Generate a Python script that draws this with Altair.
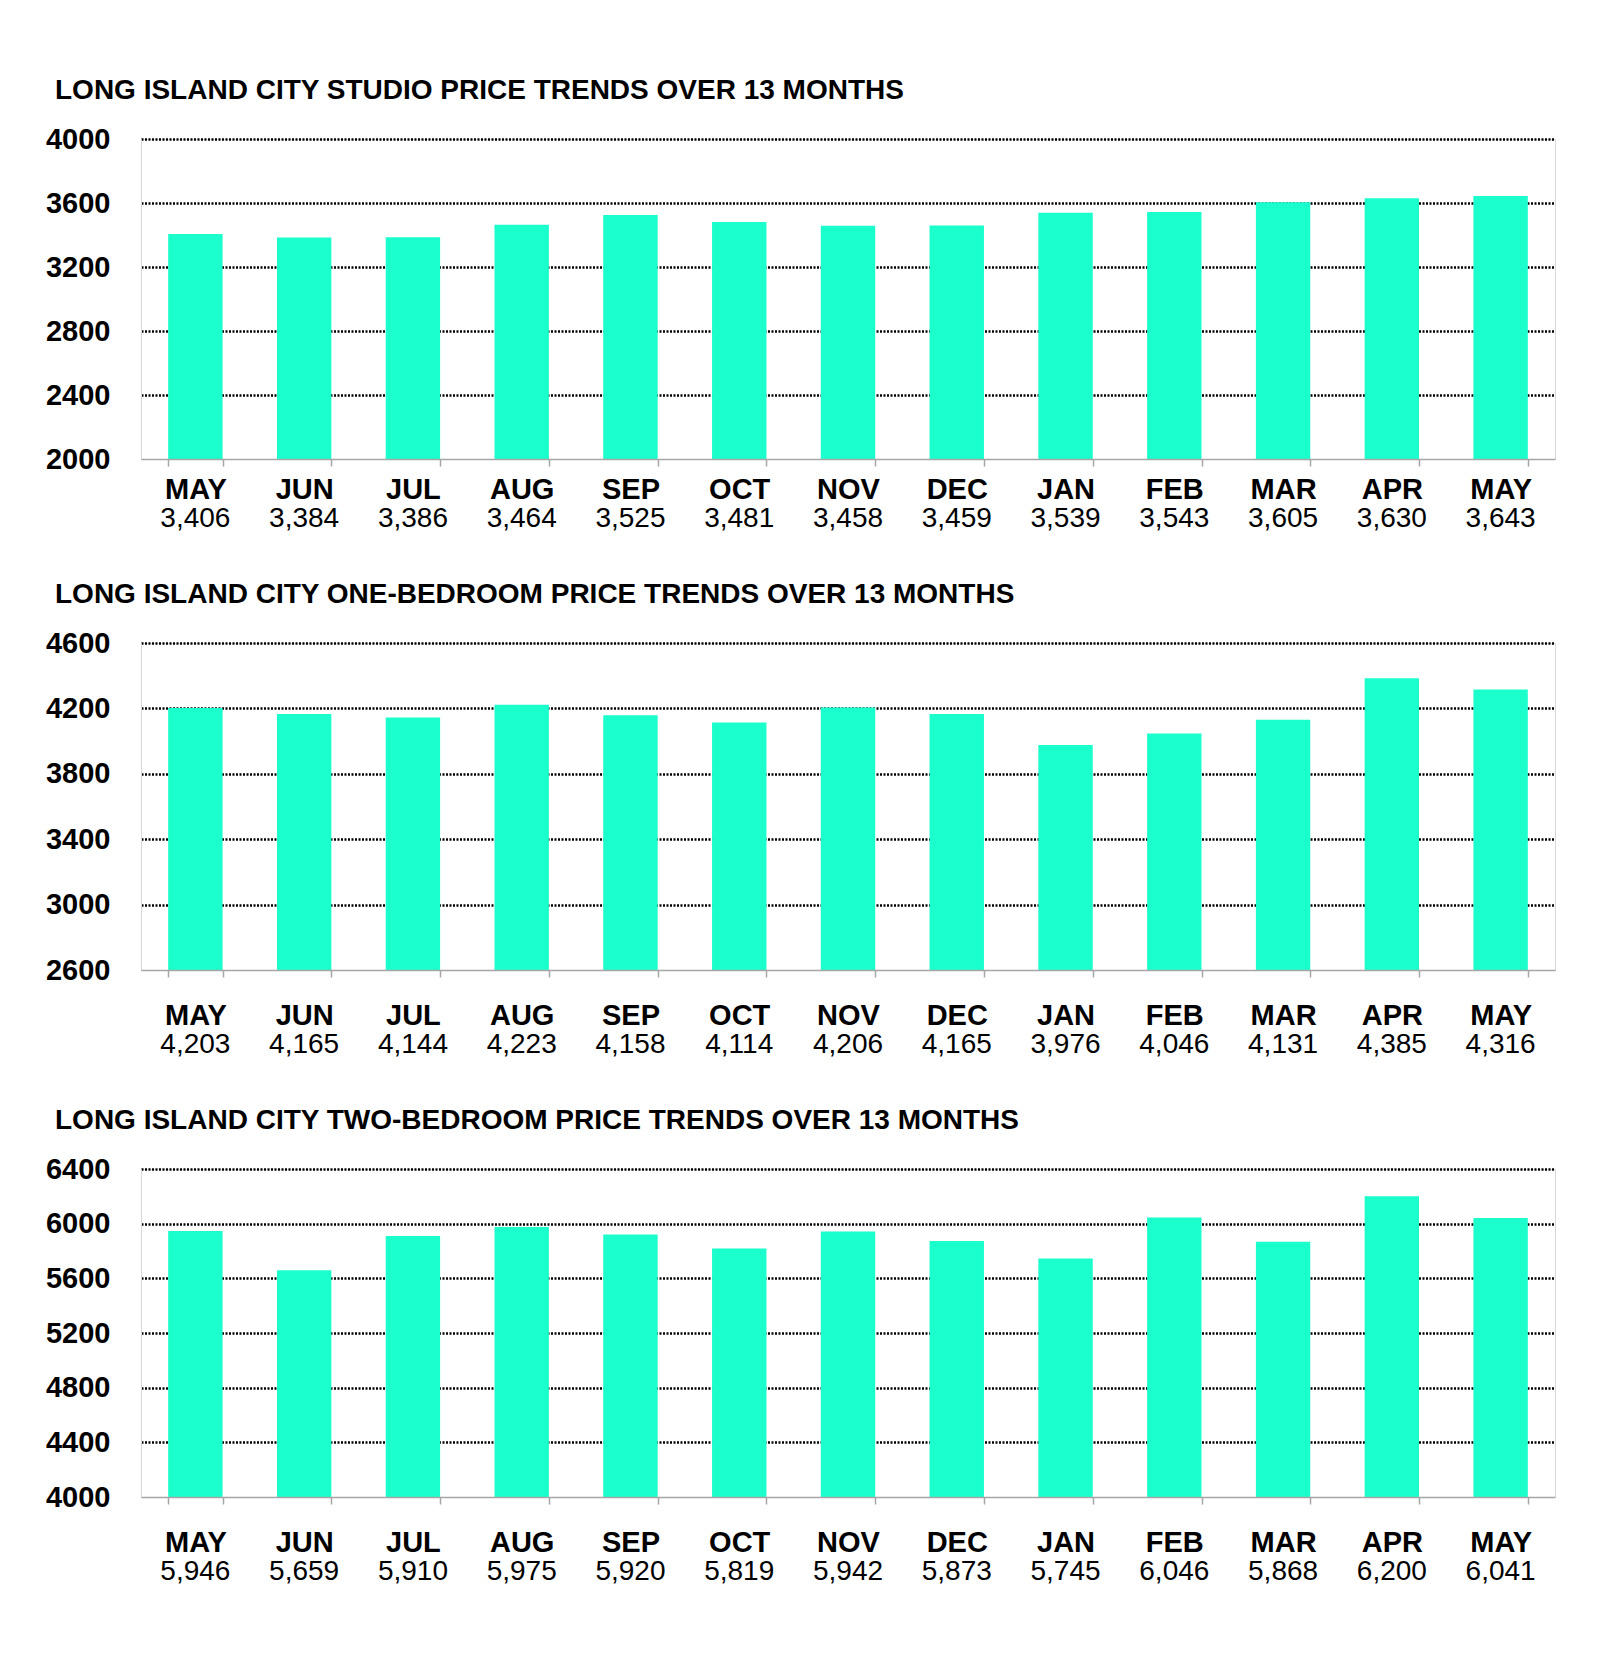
import altair as alt
import pandas as pd

months = ["MAY", "JUN", "JUL", "AUG", "SEP", "OCT", "NOV", "DEC", "JAN", "FEB", "MAR", "APR", "MAY"]
studio = [3406, 3384, 3386, 3464, 3525, 3481, 3458, 3459, 3539, 3543, 3605, 3630, 3643]
one_bed = [4203, 4165, 4144, 4223, 4158, 4114, 4206, 4165, 3976, 4046, 4131, 4385, 4316]
two_bed = [5946, 5659, 5910, 5975, 5920, 5819, 5942, 5873, 5745, 6046, 5868, 6200, 6041]

titles = [
    "LONG ISLAND CITY STUDIO PRICE TRENDS OVER 13 MONTHS",
    "LONG ISLAND CITY ONE-BEDROOM PRICE TRENDS OVER 13 MONTHS",
    "LONG ISLAND CITY TWO-BEDROOM PRICE TRENDS OVER 13 MONTHS",
]
y_domains = [(2000, 4000), (2600, 4600), (4000, 6400)]
y_steps = [400, 400, 400]

BAR = "#1affcc"
FONT = "Liberation Sans"
W = 1414
heights = [320, 327, 328]
label_pads = [12, 27, 27]


def panel(values, title, dom, step, h, lpad):
    df = pd.DataFrame({
        "key": [f"{m}-{i}" for i, m in enumerate(months)],
        "month": months,
        "value": values,
    })
    lo, hi = dom
    ticks = list(range(lo, hi + 1, step))
    x = alt.X(
        "key:N",
        sort=None,
        scale=alt.Scale(paddingInner=0.5, paddingOuter=0.25),
        axis=alt.Axis(
            title=None,
            labelExpr="isValid(datum.value) ? split(datum.value, '-')[0] : ''",
            labelAngle=0,
            labelFont=FONT,
            labelFontWeight="bold",
            labelFontSize=29,
            labelColor="#000000",
            labelPadding=lpad - 3,
            tickBand="extent",
            tickSize=7,
            tickColor="#a6a6a6",
            tickWidth=1.5,
            domainColor="#a6a6a6",
            domainWidth=1.5,
            grid=False,
            zindex=2,
        ),
    )
    yscale = alt.Scale(domain=[lo, hi], nice=False, zero=False)
    bars = alt.Chart(df).mark_bar(color=BAR, clip=True).encode(
        x=x,
        y=alt.Y(
            "value:Q",
            scale=yscale,
            axis=alt.Axis(
                title=None,
                values=ticks,
                format="d",
                labelFont=FONT,
                labelFontWeight="bold",
                labelFontSize=29,
                labelColor="#000000",
                labelPadding=31,
                ticks=False,
                domainColor="#d9d9d9",
                domainWidth=1,
                grid=True,
                gridColor="#000000",
                gridWidth=2.5,
                gridDash=[2, 1.5],
                gridOpacity={"expr": f"datum.value <= {lo} ? 0 : 1"},
            ),
        ),
    )
    right = alt.Chart(df).mark_bar(opacity=0, clip=True).encode(
        x=alt.X("key:N", sort=None),
        y=alt.Y(
            "value:Q",
            scale=yscale,
            axis=alt.Axis(
                orient="right", title=None, labels=False, ticks=False, grid=False,
                domainColor="#d9d9d9", domainWidth=1,
            ),
        ),
    )
    vals = alt.Chart(df).mark_text(
        font=FONT, fontSize=28, color="#000000", baseline="middle"
    ).encode(
        x=alt.X("key:N", sort=None),
        y=alt.value(h + lpad + 48),
        text=alt.Text("value:Q", format=","),
    )
    return (
        alt.layer(bars, right, vals)
        .resolve_axis(y="independent")
        .properties(
            width=W,
            height=h,
            title=alt.TitleParams(
                title, anchor="start", frame="group", dx=-86, offset=20,
                font=FONT, fontSize=28, fontWeight="bold", color="#000000",
            ),
        )
    )


charts = [
    panel(v, t, d, s, h, lp)
    for v, t, d, s, h, lp in zip([studio, one_bed, two_bed], titles, y_domains, y_steps, heights, label_pads)
]

chart = (
    alt.vconcat(*charts, spacing=46)
    .properties(padding={"left": 36, "top": 68, "right": 20, "bottom": 30})
    .configure_view(stroke=None)
    .configure(background="#ffffff")
)

chart.save("out.html", embed_options={"renderer": "svg", "actions": False})
